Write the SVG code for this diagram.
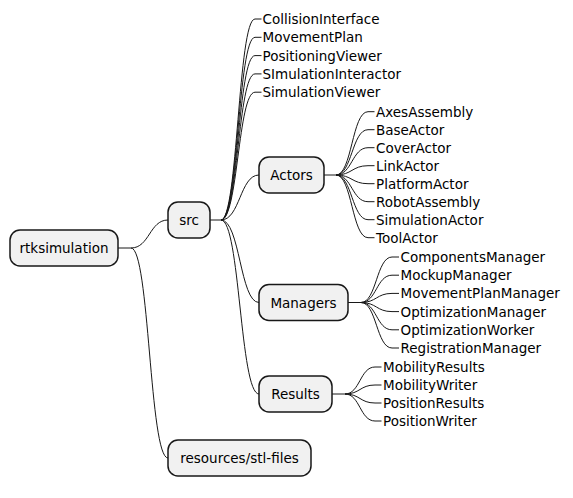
<svg xmlns="http://www.w3.org/2000/svg" width="573" height="498" viewBox="0 0 573 498">
<style>
.box{fill:#F1F1F1;stroke:#181818;stroke-width:1.5}
.c{fill:none;stroke:#181818;stroke-width:1}
text{font-family:"DejaVu Sans",sans-serif;font-size:13.5px;fill:#000}
.m{text-anchor:middle}
</style>
<rect width="573" height="498" fill="#FFFFFF"/>
<g id="connectors">
<path class="c" d="M118,248 H131 C149.5,248 149.5,220 168,220"/>
<path class="c" d="M131,248 C149.5,248 149.5,458 168,458"/>
<path class="c" d="M210,220 H221 C238,220 238,19 255,19 H261.5"/>
<path class="c" d="M221,220 C238,220 238,37.3 255,37.3 H261.5"/>
<path class="c" d="M221,220 C238,220 238,55.6 255,55.6 H261.5"/>
<path class="c" d="M221,220 C238,220 238,73.9 255,73.9 H261.5"/>
<path class="c" d="M221,220 C238,220 238,92.2 255,92.2 H261.5"/>
<path class="c" d="M221,220 C240,220 240,175 259,175"/>
<path class="c" d="M221,220 C240,220 240,302.5 259,302.5"/>
<path class="c" d="M221,220 C240,220 240,394 259,394"/>
<path class="c" d="M324,175 H336 C352,175 352,111.7 368,111.7 H374.5"/>
<path class="c" d="M336,175 C352,175 352,129.7 368,129.7 H374.5"/>
<path class="c" d="M336,175 C352,175 352,147.7 368,147.7 H374.5"/>
<path class="c" d="M336,175 C352,175 352,165.7 368,165.7 H374.5"/>
<path class="c" d="M336,175 C352,175 352,183.7 368,183.7 H374.5"/>
<path class="c" d="M336,175 C352,175 352,201.7 368,201.7 H374.5"/>
<path class="c" d="M336,175 C352,175 352,219.7 368,219.7 H374.5"/>
<path class="c" d="M336,175 C352,175 352,237.7 368,237.7 H374.5"/>
<path class="c" d="M348,302.5 H361 C376.5,302.5 376.5,257 392,257 H399"/>
<path class="c" d="M361,302.5 C376.5,302.5 376.5,275.2 392,275.2 H399"/>
<path class="c" d="M361,302.5 C376.5,302.5 376.5,293.4 392,293.4 H399"/>
<path class="c" d="M361,302.5 C376.5,302.5 376.5,311.6 392,311.6 H399"/>
<path class="c" d="M361,302.5 C376.5,302.5 376.5,329.8 392,329.8 H399"/>
<path class="c" d="M361,302.5 C376.5,302.5 376.5,348 392,348 H399"/>
<path class="c" d="M332,394 H345 C360,394 360,367 375,367 H381.5"/>
<path class="c" d="M345,394 C360,394 360,385 375,385 H381.5"/>
<path class="c" d="M345,394 C360,394 360,403 375,403 H381.5"/>
<path class="c" d="M345,394 C360,394 360,421 375,421 H381.5"/>
</g>
<g id="rtksimulation"><rect class="box" x="10" y="230" width="108" height="36" rx="10"/><text class="m" x="64" y="253">rtksimulation</text></g>
<g id="src"><rect class="box" x="168" y="202" width="42" height="36" rx="10"/><text class="m" x="189" y="225">src</text></g>
<g id="resources"><rect class="box" x="168" y="440" width="143" height="36" rx="10"/><text class="m" x="239.5" y="463">resources/stl-files</text></g>
<g id="src-leaves">
<text x="262.5" y="24">CollisionInterface</text>
<text x="262.5" y="42.3">MovementPlan</text>
<text x="262.5" y="60.6">PositioningViewer</text>
<text x="262.5" y="78.9">SImulationInteractor</text>
<text x="262.5" y="97.2">SimulationViewer</text>
</g>
<g id="Actors"><rect class="box" x="259" y="157" width="65" height="36" rx="10"/><text class="m" x="291.5" y="180">Actors</text></g>
<g id="actors-leaves">
<text x="376" y="116.7">AxesAssembly</text>
<text x="376" y="134.7">BaseActor</text>
<text x="376" y="152.7">CoverActor</text>
<text x="376" y="170.7">LinkActor</text>
<text x="376" y="188.7">PlatformActor</text>
<text x="376" y="206.7">RobotAssembly</text>
<text x="376" y="224.7">SimulationActor</text>
<text x="376" y="242.7">ToolActor</text>
</g>
<g id="Managers"><rect class="box" x="259" y="284.5" width="89" height="36" rx="10"/><text class="m" x="303.5" y="307.5">Managers</text></g>
<g id="managers-leaves">
<text x="400.5" y="262">ComponentsManager</text>
<text x="400.5" y="280.2">MockupManager</text>
<text x="400.5" y="298.4">MovementPlanManager</text>
<text x="400.5" y="316.6">OptimizationManager</text>
<text x="400.5" y="334.8">OptimizationWorker</text>
<text x="400.5" y="353">RegistrationManager</text>
</g>
<g id="Results"><rect class="box" x="259" y="376" width="73" height="36" rx="10"/><text class="m" x="295.5" y="399">Results</text></g>
<g id="results-leaves">
<text x="383" y="372">MobilityResults</text>
<text x="383" y="390">MobilityWriter</text>
<text x="383" y="408">PositionResults</text>
<text x="383" y="426">PositionWriter</text>
</g>
</svg>
